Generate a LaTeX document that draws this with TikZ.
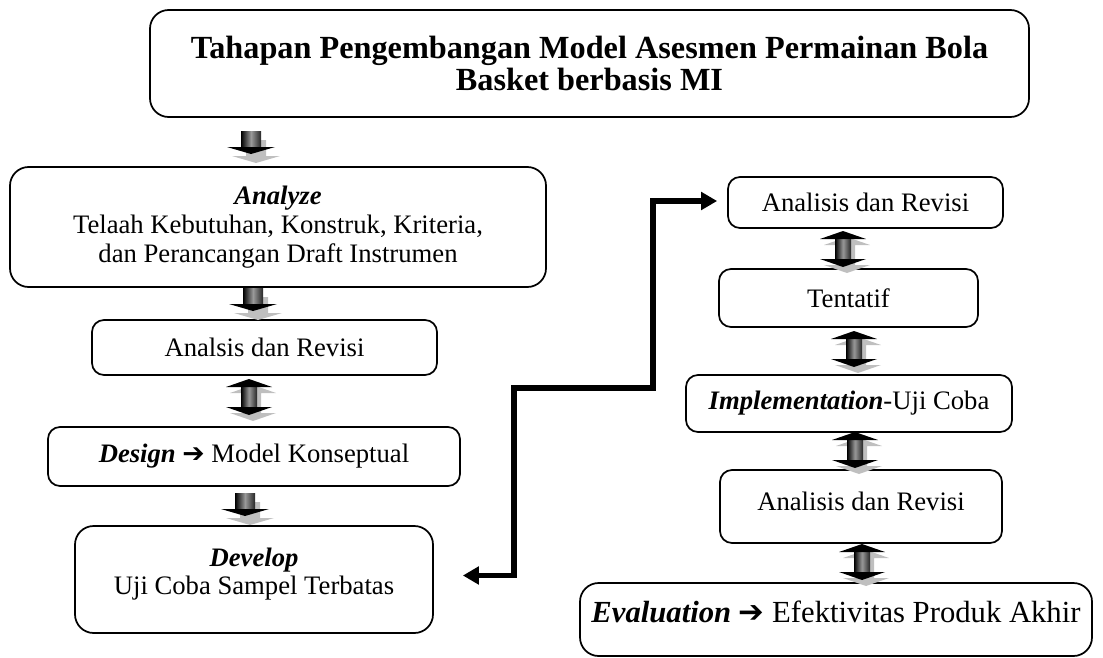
\documentclass[tikz,border=0pt]{standalone}
\usepackage{fontspec}
\setmainfont{Liberation Serif}
\newfontfamily\arrowfont{DejaVu Sans}
\usetikzlibrary{arrows.meta,calc}

% heavy right arrow used inside the labels
\newcommand\rarr{{\arrowfont ➔}}

\begin{document}
\begin{tikzpicture}[x=0.75pt,y=-0.75pt,
  box/.style={draw, line width=1.3pt, rounded corners=9pt, align=center,
    inner sep=0pt, font=\fontsize{20}{22}\selectfont},
  bigbox/.style={box, rounded corners=14pt},
  txt/.style={align=center, inner sep=0pt, font=\fontsize{20}{22}\selectfont},
  sz/.style 2 args={minimum width=#1*0.75pt, minimum height=#2*0.75pt},
  conn/.style={line width=3.8pt, line join=miter,
    {Triangle[length=12pt,width=13pt]}-{Triangle[length=12pt,width=13pt]}},
  shaftshade/.style={left color=black, right color=black!85, middle color=black!40},
  % block arrow pointing down, origin = top centre of the shaft
  downblk/.pic={
    \fill[gray!50] (-5,9) -- (15,9) -- (15,25) -- (29,25) -- (5,32) -- (-19,25) -- (-5,25) -- cycle;
    \shade[shaftshade] (-10,0) rectangle (10,16.5);
    \fill[black] (-24,16) -- (24,16) -- (0,23) -- cycle;
  },
  % block arrow pointing both ways, origin = upper tip
  dblblk/.pic={
    \fill[gray!50] (4,6) -- (27,14) -- (12,14) -- (12,34) -- (27,34) -- (4,42) -- (-19,34) -- (-4,34) -- (-4,14) -- (-19,14) -- cycle;
    \shade[shaftshade] (-8,8) rectangle (8,28);
    \fill[black] (0,0) -- (23,8) -- (-23,8) -- cycle;
    \fill[black] (-23,28) -- (23,28) -- (0,36) -- cycle;
  }]
\useasboundingbox (0,0) rectangle (1103,657);

% left column
\node[bigbox, sz={879}{107}, font=\fontsize{24.2}{24}\selectfont\bfseries] (title) at (589.5,63.5)
  {Tahapan Pengembangan Model Asesmen Permainan Bola\\Basket berbasis MI};
\node[bigbox, sz={536}{120}, font=\fontsize{20}{21.75}\selectfont] (analyze) at (278,227)
  {\textbf{\textit{Analyze}}\\Telaah Kebutuhan, Konstruk, Kriteria,\\dan Perancangan Draft Instrumen};
\node[box, sz={345}{55}] (rev0) at (264.5,347.5) {Analsis dan Revisi};
\node[box, sz={412}{59}] (design) at (254,456.5) {\textbf{\textit{Design}} \rarr{} Model Konseptual};
\node[bigbox, sz={358}{107}] (develop) at (254,579.5) {};
\node[txt, font=\fontsize{20}{21}\selectfont] (developtxt) at ($(develop.center)+(0,-5)$)
  {\textbf{\textit{Develop}}\\Uji Coba Sampel Terbatas};

% right column
\node[box, sz={275}{51}] (rev1) at (865.5,202.5) {Analisis dan Revisi};
\node[box, sz={259}{58}] (tent) at (848.5,298) {Tentatif};
\node[box, sz={326}{57}] (impl) at (849,403.5) {\textbf{\textit{Implementation}}-Uji Coba};
\node[box, sz={282}{73}] (rev2) at (861,506.5) {};
\node[txt] (rev2txt) at ($(rev2.center)+(0,-5.5)$) {Analisis dan Revisi};
\node[bigbox, sz={512}{73}] (eval) at (836,619.5) {};
\node[txt, font=\fontsize{23}{26}\selectfont] (evaltxt) at ($(eval.center)+(0,-7.5)$)
  {\textbf{\textit{Evaluation}} \rarr{} Efektivitas Produk Akhir};

% block arrows between the steps
\pic at (251,131) {downblk};
\pic at (253,288) {downblk};
\pic at (249,379) {dblblk};
\pic at (245,493) {downblk};
\pic at (843,231) {dblblk};
\pic at (854,331) {dblblk};
\pic at (855,432) {dblblk};
\pic at (862,544) {dblblk};

% link from the develop step to the right-hand branch
\coordinate (kneeA) at (514,388);
\coordinate (kneeB) at (653,388);
\draw[conn] ($(develop.east)+(29,-4)$) -| (kneeA) -- (kneeB) |- ($(rev1.west)+(-10,-1.5)$);
\end{tikzpicture}
\end{document}
